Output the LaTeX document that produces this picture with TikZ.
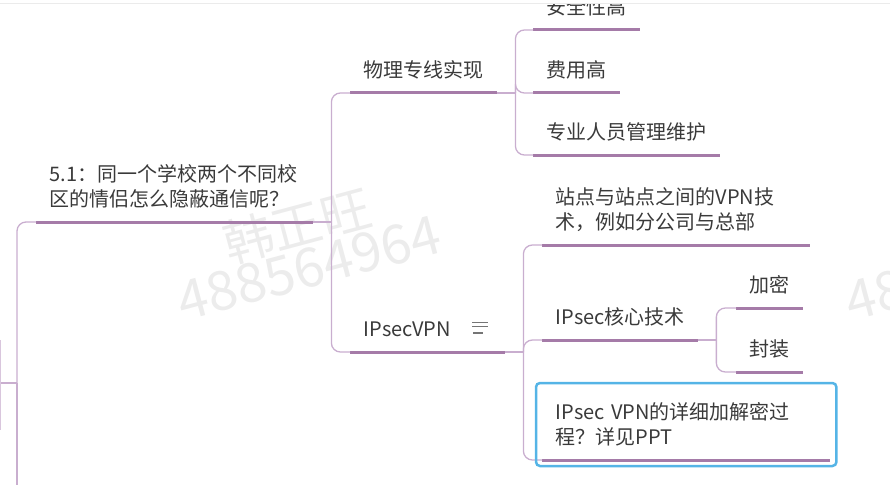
\documentclass[tikz,border=0pt]{standalone}
\usepackage{fontspec}
\setmainfont{Noto Sans CJK SC}
\usetikzlibrary{calc}

\definecolor{txt}{HTML}{3A3A3A}
\definecolor{branchc}{HTML}{A57BA8}
\definecolor{linkc}{HTML}{C9AECF}
\definecolor{pickc}{HTML}{55B4E6}
\definecolor{wmarkc}{HTML}{ECECEC}

\tikzset{
  topic/.style={anchor=south west, text=txt, font=\fontsize{20}{25.5}\selectfont,
    inner xsep=13.5pt, inner ysep=11pt, text depth=4pt, align=left},
  twoline/.style={text depth=29.5pt},
  uline/.style={branchc, line width=3pt},
  link/.style={linkc, line width=1.3pt, rounded corners=9pt},
  wmark/.style={text=wmarkc, rotate=15, font=\fontsize{50}{50}\selectfont},
  wnum/.style={wmark, font=\fontsize{54}{54}\selectfont},
}

\begin{document}
\begin{tikzpicture}[x=1pt,y=-1pt]
\useasboundingbox (0,0) rectangle (890,484);
\clip (0,0) rectangle (890,484);

% watermark
\node[wmark] (wmname) at (297,226) {韩正旺};
\node[wnum] (wmnum) at (309,268) {488564964};
\node[wnum] (wmnumr) at (977,268) {488564964};

% topics
\node[topic, twoline, text width=250pt] (q51) at (36,222) {5.1：同一个学校两个不同校\\区的情侣怎么隐蔽通信呢？};
\node[topic] (line) at (350,93) {物理专线实现};
\node[topic] (safe) at (533,30) {安全性高};
\node[topic] (cost) at (533,93) {费用高};
\node[topic] (staff) at (533,155) {专业人员管理维护};
\node[topic, text width=128pt] (vpn) at (350,352) {IPsecVPN};
\node[topic, twoline, text width=241pt] (site) at (542,245) {站点与站点之间的VPN技\\术，例如分公司与总部};
\node[topic] (core) at (542,340) {IPsec核心技术};
\node[topic] (enc) at (736,308) {加密};
\node[topic] (pack) at (736,372) {封装};
\node[topic, twoline, text width=261pt] (ppt) at (542,460) {IPsec VPN的详细加解密过\\程？详见PPT};

% notes icon
\draw[txt!70, line width=1.4pt] ($(vpn.south east)+(-33,-29.5)$) -- ++(16,0)
  ($(vpn.south east)+(-33,-25.5)$) -- ++(16,0)
  ($(vpn.south east)+(-32,-19)$) -- ++(10,0);

% underlines
\foreach \n in {q51,line,safe,cost,staff,vpn,site,core,enc,pack,ppt}
  \draw[uline] (\n.south west) -- (\n.south east);

% connectors
\draw[link] (q51.south east) -- ++(18,0) coordinate (q51j);
\foreach \c in {line,vpn}
  \draw[link] (\c.south west) -| (q51j);
\draw[link] (line.south east) -- ++(18,0) coordinate (linej);
\foreach \c in {safe,cost,staff}
  \draw[link] (\c.south west) -| (linej);
\draw[link] (vpn.south east) -- ++(18,0) coordinate (vpnj);
\foreach \c in {site,core,ppt}
  \draw[link] (\c.south west) -| (vpnj);
\draw[link] (core.south east) -- ++(18,0) coordinate (corej);
\foreach \c in {enc,pack}
  \draw[link] (\c.south west) -| (corej);

% parent branch at the left edge
\coordinate (root) at (-2,383);
\coordinate (rootj) at (17,383);
\coordinate (rootend) at (17,500);
\draw[link] (root) -- (rootj);
\draw[link] (q51.south west) -| (rootj);
\draw[link] (rootj) -- (rootend);
\draw[linkc!70, line width=1pt] (0.6,340) -- (0.6,430);

% selected topic
\draw[pickc, line width=2.5pt, rounded corners=4pt]
  ($(ppt.south west)+(-6,6)$) rectangle ($(ppt.south east)+(6,-77)$);

% window edge
\fill[white] (0,0) rectangle (890,3);
\draw[black!8, line width=1pt] (0,3.5) -- (890,3.5);
\end{tikzpicture}
\end{document}
